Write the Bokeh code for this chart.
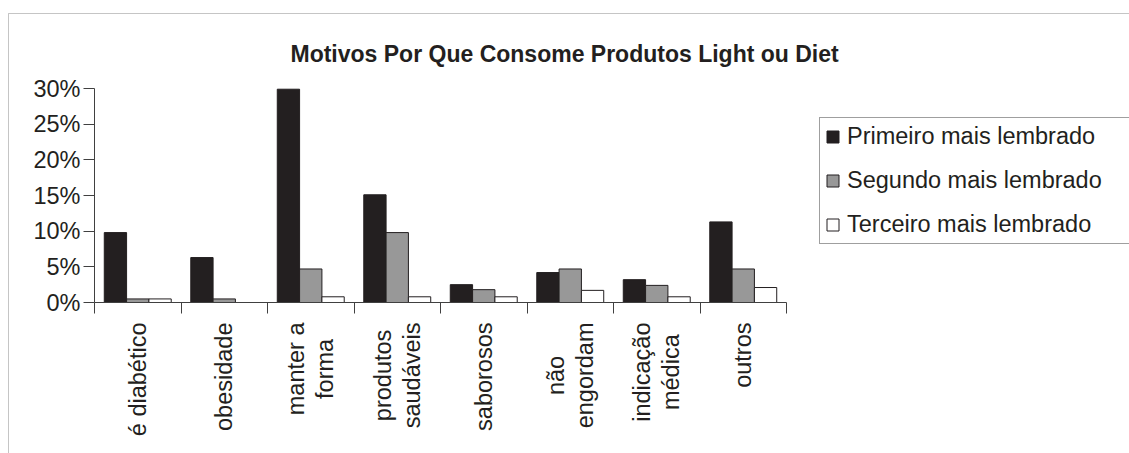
import numpy as np
from bokeh.plotting import figure
from bokeh.core.properties import value
from bokeh.models import (Range1d, FixedTicker, PrintfTickFormatter, Legend,
                          LegendItem, BoxAnnotation, ColumnDataSource, Label)
from bokeh.embed import file_html
from bokeh.resources import INLINE

# Reasons for consuming light/diet products (% of answers)
categories = ["é diabético", "obesidade", "manter a\nforma", "produtos\nsaudáveis",
              "saborosos", "não\nengordam", "indicação\nmédica", "outros"]
primeiro = [9.8, 6.3, 29.9, 15.1, 2.5, 4.2, 3.2, 11.3]
segundo = [0.5, 0.5, 4.7, 9.8, 1.8, 4.7, 2.4, 4.7]
terceiro = [0.5, 0.0, 0.8, 0.8, 0.8, 1.7, 0.8, 2.1]
series_names = ["Primeiro mais lembrado", "Segundo mais lembrado", "Terceiro mais lembrado"]
y_ticks = [0, 5, 10, 15, 20, 25, 30]
title_text = "Motivos Por Que Consome Produtos Light ou Diet"

FONT = "Liberation Sans"
INK = "#231f20"
LINE = "#404040"
colors = [INK, "#989898", "#ffffff"]

W, H = 1129, 453
# pixel layout of the plotting area: x = 0..n spans AX_L..AX_R, y = 0..30 spans AX_B..AX_T
n = len(categories)
AX_L, AX_R, AX_T, AX_B = 94, 786, 88, 302
YMAX = 30
sx = (AX_R - AX_L) / n
sy = (AX_B - AX_T) / YMAX


def dx(px):
    return (px - AX_L) / sx


def dy(py):
    return (AX_B - py) / sy


p = figure(width=W, height=H, output_backend="svg", toolbar_location=None,
           x_range=Range1d(dx(0), dx(W)), y_range=Range1d(dy(H), dy(0)),
           min_border=0)
p.xgrid.visible = False
p.ygrid.visible = False
p.outline_line_color = None
p.background_fill_color = "white"
p.border_fill_color = "white"

centers = np.arange(n) + 0.5
bar_w = 0.258
offsets = [-bar_w, 0.0, bar_w]

renderers = []
for vals, off, col in zip([primeiro, segundo, terceiro], offsets, colors):
    src = ColumnDataSource(dict(x=centers + off, top=vals))
    r = p.vbar(x="x", top="top", bottom=0, width=bar_w, source=src,
               fill_color=col, line_color=INK, line_width=1)
    renderers.append(r)

# x axis at y = 0: no labels, tick marks on category boundaries
xa = p.xaxis[0]
xa.fixed_location = 0
xa.bounds = (0, n)
xa.ticker = FixedTicker(ticks=[], minor_ticks=list(range(n + 1)))
xa.minor_tick_out = 11
xa.minor_tick_in = 0
xa.minor_tick_line_color = LINE
xa.axis_line_color = LINE

# y axis at x = 0
ya = p.yaxis[0]
ya.fixed_location = 0
ya.bounds = (0, YMAX)
ya.ticker = FixedTicker(ticks=y_ticks)
ya.formatter = PrintfTickFormatter(format="%d%%")
ya.major_tick_out = 11
ya.major_tick_in = 0
ya.minor_tick_line_color = None
ya.major_label_standoff = 3
ya.major_label_text_font = FONT
ya.major_label_text_font_size = "23.5px"
ya.major_label_text_color = INK
ya.axis_line_color = LINE
ya.major_tick_line_color = LINE

# vertical category labels, lines centred, block top just under the axis
lab_src = ColumnDataSource(dict(x=centers, y=[dy(AX_B + 20)] * n, text=categories))
p.text(x="x", y="y", text="text", source=lab_src, angle=np.pi / 2,
       anchor="center_right", text_align="center", text_line_height=1.1,
       text_font=value(FONT), text_font_size="23.5px", text_color=INK)

# title
p.add_layout(Label(x=dx(290), y=dy(53), text=title_text, text_align="left",
                   text_baseline="alphabetic", text_font=FONT, text_font_size="23px",
                   text_font_style="bold", text_color=INK))

legend = Legend(items=[LegendItem(label=nm, renderers=[r]) for nm, r in zip(series_names, renderers)],
                location=(819, H - 244))
legend.border_line_color = LINE
legend.border_line_width = 1
legend.background_fill_alpha = 1.0
legend.padding = 5
legend.spacing = 17
legend.margin = 0
legend.glyph_width = 15
legend.glyph_height = 15
legend.label_standoff = 7
legend.label_width = 283
legend.label_text_font = FONT
legend.label_text_font_size = "23.5px"
legend.label_text_color = INK
p.add_layout(legend)

# chart area border
p.add_layout(BoxAnnotation(left=dx(8), right=dx(W + 50), top=dy(13), bottom=dy(H + 50),
                           fill_alpha=0, line_color=LINE, line_width=1))

open("out.html", "w").write(file_html(p, INLINE))
